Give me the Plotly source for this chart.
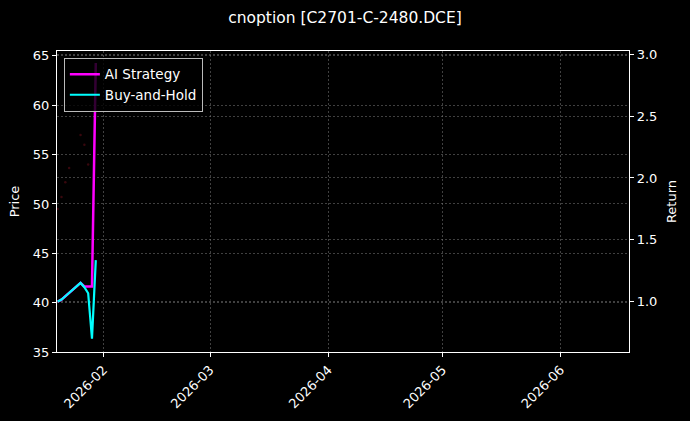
import plotly.graph_objects as go

dates = ["2026-01-20", "2026-01-21", "2026-01-22", "2026-01-23",
         "2026-01-26", "2026-01-27", "2026-01-28", "2026-01-29", "2026-01-30"]
price = [49.5, 50.7, 52.2, 53.65, 57.0, 56.0, 54.0, 34.7, 66.0]
ai_strategy = [1.0, 1.016, 1.043, 1.071, 1.151, 1.122, 1.122, 1.122, 2.93]
buy_hold = [1.0, 1.016, 1.043, 1.071, 1.151, 1.116, 1.067, 0.70, 1.335]
xtick_vals = ["2026-02-01", "2026-03-01", "2026-04-01", "2026-05-01", "2026-06-01"]
xtick_text = ["2026-02", "2026-03", "2026-04", "2026-05", "2026-06"]

FONT = "DejaVu Sans"
grid = "rgba(128,128,128,0.5)"
gdash = "2px,2px"

fig = go.Figure()
fig.add_trace(go.Scatter(x=dates, y=price, mode="markers", name="Price",
                         marker=dict(color="rgba(255,30,60,0.22)", size=2.5),
                         showlegend=False, yaxis="y", cliponaxis=True))
fig.add_trace(go.Scatter(x=dates, y=ai_strategy, mode="lines", name="AI Strategy",
                         line=dict(color="#ff00ff", width=2.5), yaxis="y2"))
fig.add_trace(go.Scatter(x=dates, y=buy_hold, mode="lines", name="Buy-and-Hold",
                         line=dict(color="#00ffff", width=2.2), yaxis="y2"))

fig.update_layout(
    width=690, height=421,
    margin=dict(l=57, r=61, t=51, b=69, autoexpand=False),
    paper_bgcolor="black", plot_bgcolor="black",
    font=dict(family=FONT, color="white", size=13),
    title=dict(text="cnoption [C2701-C-2480.DCE]", x=0.5, xanchor="center",
               y=1 - 18 / 421, yanchor="middle", font=dict(size=15.5, color="white")),
    xaxis=dict(type="date", range=["2026-01-19 19:40", "2026-06-18 23:00"],
               tickvals=xtick_vals, ticktext=xtick_text, tickangle=-45,
               showline=True, linecolor="white", linewidth=1.2, mirror=True,
               ticks="outside", ticklen=4, tickcolor="white", automargin=False,
               showgrid=True, gridcolor=grid, gridwidth=0.6, griddash=gdash,
               zeroline=False, tickfont=dict(size=13)),
    yaxis=dict(range=[35, 65.5], tickvals=[35, 40, 45, 50, 55, 60, 65],
               title=dict(text="Price", font=dict(size=13), standoff=10),
               showline=True, linecolor="white", linewidth=1.2, mirror=True,
               ticks="outside", ticklen=4, tickcolor="white", automargin=False,
               showgrid=True, gridcolor=grid, gridwidth=0.6, griddash=gdash,
               zeroline=False, tickfont=dict(size=13)),
    yaxis2=dict(range=[0.592, 3.027], tickvals=[1.0, 1.5, 2.0, 2.5, 3.0],
                ticktext=["1.0", "1.5", "2.0", "2.5", "3.0"],
                overlaying="y", side="right",
                title=dict(text="Return", font=dict(size=13), standoff=10),
                showline=True, linecolor="white", linewidth=1.2, automargin=False,
                ticks="outside", ticklen=4, tickcolor="white",
                showgrid=True, gridcolor=grid, gridwidth=0.6, griddash=gdash,
                zeroline=False, tickfont=dict(size=13)),
    legend=dict(x=0.012, y=0.977, xanchor="left", yanchor="top",
                bgcolor="rgba(0,0,0,0.8)", bordercolor="#bbbbbb", borderwidth=1,
                font=dict(size=13.5, color="white"), tracegroupgap=0,
                itemwidth=30),
    showlegend=True,
)

fig.write_html(
    "out.html",
    config={"displayModeBar": False},
    post_script="document.body.style.margin='0';document.body.style.background='black';",
)
